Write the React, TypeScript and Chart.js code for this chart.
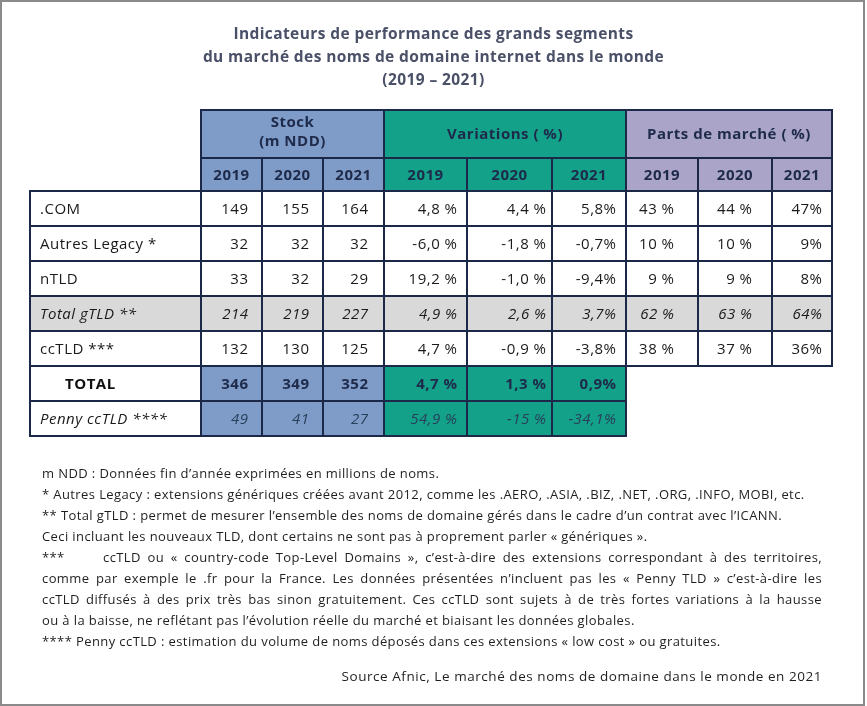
import { useEffect, useRef } from "react";
import { Chart, registerables } from "chart.js";

Chart.register(...registerables);

// ---- Data ----
const ROWS = [".COM", "Autres Legacy *", "nTLD", "Total gTLD **", "ccTLD ***", "TOTAL", "Penny ccTLD ****"];
const YEARS = ["2019", "2020", "2021"];
const GROUPS = [["Stock", "(m NDD)"], ["Variations ( %)"], ["Parts de marché ( %)"]];

const STOCK_2019 = [149, 32, 33, 214, 132, 346, 49];
const STOCK_2020 = [155, 32, 32, 219, 130, 349, 41];
const STOCK_2021 = [164, 32, 29, 227, 125, 352, 27];

const VAR_2019 = ["4,8 %", "-6,0 %", "19,2 %", "4,9 %", "4,7 %", "4,7 %", "54,9 %"];
const VAR_2020 = ["4,4 %", "-1,8 %", "-1,0 %", "2,6 %", "-0,9 %", "1,3 %", "-15 %"];
const VAR_2021 = ["5,8%", "-0,7%", "-9,4%", "3,7%", "-3,8%", "0,9%", "-34,1%"];

const PART_2019 = ["43 %", "10 %", "9 %", "62 %", "38 %", null, null];
const PART_2020 = ["44 %", "10 %", "9 %", "63 %", "37 %", null, null];
const PART_2021 = ["47%", "9%", "8%", "64%", "36%", null, null];

const TITLE_LINES = [
  "Indicateurs de performance des grands segments",
  "du marché des noms de domaine internet dans le monde",
  "(2019 – 2021)",
];

const NOTES = [
  "m NDD : Données fin d’année exprimées en millions de noms.",
  "* Autres Legacy : extensions génériques créées avant 2012, comme les .AERO, .ASIA, .BIZ, .NET, .ORG, .INFO, MOBI, etc.",
  "** Total gTLD : permet de mesurer l’ensemble des noms de domaine gérés dans le cadre d’un contrat avec l’ICANN.",
  "Ceci incluant les nouveaux TLD, dont certains ne sont pas à proprement parler « génériques ».",
];
const NOTE_CC_MARK = "***";
const NOTE_CC = [
  "ccTLD ou « country-code Top-Level Domains », c’est-à-dire des extensions correspondant à des territoires,",
  "comme par exemple le .fr pour la France. Les données présentées n’incluent pas les « Penny TLD » c’est-à-dire les",
  "ccTLD diffusés à des prix très bas sinon gratuitement. Ces ccTLD sont sujets à de très fortes variations à la hausse",
];
const NOTES_END = [
  "ou à la baisse, ne reflétant pas l’évolution réelle du marché et biaisant les données globales.",
  "**** Penny ccTLD : estimation du volume de noms déposés dans ces extensions « low cost » ou gratuites.",
];
const SOURCE = "Source Afnic, Le marché des noms de domaine dans le monde en 2021";

// ---- Layout / style ----
const FONT = "'Open Sans', 'DejaVu Sans', sans-serif";
const COL_WIDTHS = [171, 61, 61, 61, 83, 85, 74, 72, 74, 60];
const COL_PAD_RIGHT = [0, 14, 14, 16, 10, 6, 10, 24, 20, 10];
const HEADER_HEIGHTS = [48, 33];
const BORDER = "#1b2848";
const BLUE = "#7f9cc8";
const TEAL = "#14a189";
const LAVENDER = "#aba4c9";
const GREY = "#d9d9d9";
const NAVY_TEXT = "#1e2a4a";
const PENNY_TEXT = "#27405a";
const TEXT = "#1a1a1a";
const CELL_FONT_SIZE = 15;

const COLUMNS: (string | null)[][] = [
  ROWS,
  STOCK_2019.map(String),
  STOCK_2020.map(String),
  STOCK_2021.map(String),
  VAR_2019,
  VAR_2020,
  VAR_2021,
  PART_2019,
  PART_2020,
  PART_2021,
];

const EDGES = COL_WIDTHS.reduce((acc, w) => { acc.push(acc[acc.length - 1] + w); return acc; }, [0] as number[]);
const TOTAL_W = EDGES[EDGES.length - 1];

const GROUP_COLORS = [BLUE, TEAL, LAVENDER];

function cellFill(row: number, col: number): string {
  if (row === 3) return GREY;
  if (row >= 5 && col >= 1) return GROUP_COLORS[Math.floor((col - 1) / 3)];
  return "#ffffff";
}

function cellFont(row: number): string {
  if (row === 3 || row === 6) return `italic 400 ${CELL_FONT_SIZE}px ${FONT}`;
  if (row === 5) return `700 ${CELL_FONT_SIZE}px ${FONT}`;
  return `400 ${CELL_FONT_SIZE}px ${FONT}`;
}

const tablePlugin = {
  id: "tablePlugin",
  afterDatasetsDraw(chart: any) {
    const ctx = chart.ctx as CanvasRenderingContext2D;
    const xs = chart.scales.x;
    const area = chart.chartArea;
    const px = (v: number) => Math.round(xs.getPixelForValue(v));
    const h1Top = area.top - HEADER_HEIGHTS[0] - HEADER_HEIGHTS[1];
    const h2Top = area.top - HEADER_HEIGHTS[1];

    const rects: { l: number; t: number; w: number; h: number }[] = [];
    ctx.save();
    GROUPS.forEach((_, g) => {
      const l = px(EDGES[1 + g * 3]);
      const r = px(EDGES[4 + g * 3]);
      ctx.fillStyle = GROUP_COLORS[g];
      ctx.fillRect(l, h1Top, r - l, HEADER_HEIGHTS[0]);
      rects.push({ l, t: h1Top, w: r - l, h: HEADER_HEIGHTS[0] });
      for (let k = 0; k < 3; k++) {
        const c = 1 + g * 3 + k;
        const cl = px(EDGES[c]);
        const cr = px(EDGES[c + 1]);
        ctx.fillRect(cl, h2Top, cr - cl, HEADER_HEIGHTS[1]);
        rects.push({ l: cl, t: h2Top, w: cr - cl, h: HEADER_HEIGHTS[1] });
      }
    });

    const cells: { row: number; col: number; l: number; r: number; y: number }[] = [];
    chart.data.datasets.forEach((_: any, col: number) => {
      const meta = chart.getDatasetMeta(col);
      meta.data.forEach((el: any, row: number) => {
        if (COLUMNS[col][row] == null) return;
        const p = el.getProps(["x", "y", "base", "height"], true);
        const l = Math.round(Math.min(p.x, p.base));
        const r = Math.round(Math.max(p.x, p.base));
        const t = Math.round(p.y - p.height / 2);
        rects.push({ l, t, w: r - l, h: Math.round(p.height) });
        cells.push({ row, col, l, r, y: p.y });
      });
    });

    ctx.strokeStyle = BORDER;
    ctx.lineWidth = 2;
    rects.forEach((rc) => ctx.strokeRect(rc.l, rc.t, rc.w, rc.h));

    (ctx as any).letterSpacing = "0.5px";
    ctx.textBaseline = "middle";
    ctx.textAlign = "center";
    ctx.fillStyle = NAVY_TEXT;
    ctx.font = `700 ${CELL_FONT_SIZE}px ${FONT}`;
    GROUPS.forEach((lines, g) => {
      const cx = (px(EDGES[1 + g * 3]) + px(EDGES[4 + g * 3])) / 2;
      const cy = h1Top + HEADER_HEIGHTS[0] / 2 + (lines.length > 1 ? -1.5 : 1);
      const lh = 19;
      lines.forEach((ln, i) => {
        ctx.fillText(ln, cx, cy + (i - (lines.length - 1) / 2) * lh);
      });
      YEARS.forEach((yr, k) => {
        const c = 1 + g * 3 + k;
        ctx.fillText(yr, (px(EDGES[c]) + px(EDGES[c + 1])) / 2, h2Top + HEADER_HEIGHTS[1] / 2 + 1);
      });
    });

    cells.forEach(({ row, col, l, r, y }) => {
      const txt = COLUMNS[col][row] as string;
      ctx.font = cellFont(row);
      ctx.fillStyle = row === 6 && col >= 1 ? PENNY_TEXT : row === 5 && col >= 1 ? NAVY_TEXT : row === 5 ? "#111111" : TEXT;
      if (col === 0) {
        ctx.textAlign = "left";
        ctx.fillText(txt, l + (row === 5 ? 35 : 10), y + 1);
      } else {
        ctx.textAlign = "right";
        ctx.fillText(txt, r - COL_PAD_RIGHT[col] + 0.5, y + 1);
      }
    });
    ctx.restore();
  },
};

export default function App() {
  const ref = useRef<HTMLCanvasElement>(null);

  useEffect(() => {
    const datasets = COLUMNS.map((colVals, col) => ({
      label: col === 0 ? "label" : `col${col}`,
      data: ROWS.map((_, row) => (colVals[row] == null ? null : [EDGES[col], EDGES[col + 1]])),
      backgroundColor: (c: any) => cellFill(c.dataIndex, col),
      borderWidth: 0,
      grouped: false,
      barPercentage: 1,
      categoryPercentage: 1,
    }));
    const chart = new Chart(ref.current as HTMLCanvasElement, {
      type: "bar",
      data: { labels: ROWS, datasets: datasets as any },
      options: {
        indexAxis: "y",
        animation: false,
        responsive: true,
        maintainAspectRatio: false,
        layout: { padding: { left: 30, right: 35, top: 191, bottom: 270 } },
        scales: {
          x: { type: "linear", min: 0, max: TOTAL_W, display: false },
          y: { type: "category", display: false, offset: true },
        },
        plugins: { legend: { display: false }, tooltip: { enabled: false }, title: { display: false } },
      },
      plugins: [tablePlugin],
    } as any);
    return () => chart.destroy();
  }, []);

  const noteStyle: React.CSSProperties = { whiteSpace: "nowrap", height: 21 };
  const justStyle: React.CSSProperties = { textAlign: "justify", textAlignLast: "justify" as any, height: 21, overflow: "hidden" };

  return (
    <div style={{ position: "absolute", left: 0, top: 0, width: 867, height: 706, background: "#fff", overflow: "hidden", fontFamily: FONT }}>
      <div style={{ position: "absolute", left: 0, top: 0, width: 867, height: 706 }}>
        <canvas ref={ref} />
      </div>
      <div style={{ position: "absolute", left: 0, top: 21.5, width: 867, textAlign: "center", fontWeight: 700, fontSize: 15.5, letterSpacing: "0.4px", lineHeight: "23px", color: "#4a5068" }}>
        {TITLE_LINES.map((t) => (<div key={t}>{t}</div>))}
      </div>
      <div style={{ position: "absolute", left: 42, top: 462.5, width: 780, fontSize: 13, letterSpacing: "0.4px", lineHeight: "21px", color: "#1f1f1f" }}>
        {NOTES.map((t) => (<div key={t} style={noteStyle}>{t}</div>))}
        <div style={{ display: "flex", height: 21 }}>
          <span style={{ width: 61, flex: "none" }}>{NOTE_CC_MARK}</span>
          <span style={{ flex: 1, ...justStyle }}>{NOTE_CC[0]}</span>
        </div>
        {NOTE_CC.slice(1).map((t) => (<div key={t} style={justStyle}>{t}</div>))}
        {NOTES_END.map((t) => (<div key={t} style={noteStyle}>{t}</div>))}
      </div>
      <div style={{ position: "absolute", right: 45, top: 665.5, fontSize: 13.5, letterSpacing: "0.55px", lineHeight: "21px", color: "#1f1f1f", whiteSpace: "nowrap" }}>
        {SOURCE}
      </div>
      <div style={{ position: "absolute", left: 0, top: 0, width: 865, height: 706, border: "2px solid #8a8a8a", boxSizing: "border-box", pointerEvents: "none" }} />
    </div>
  );
}
